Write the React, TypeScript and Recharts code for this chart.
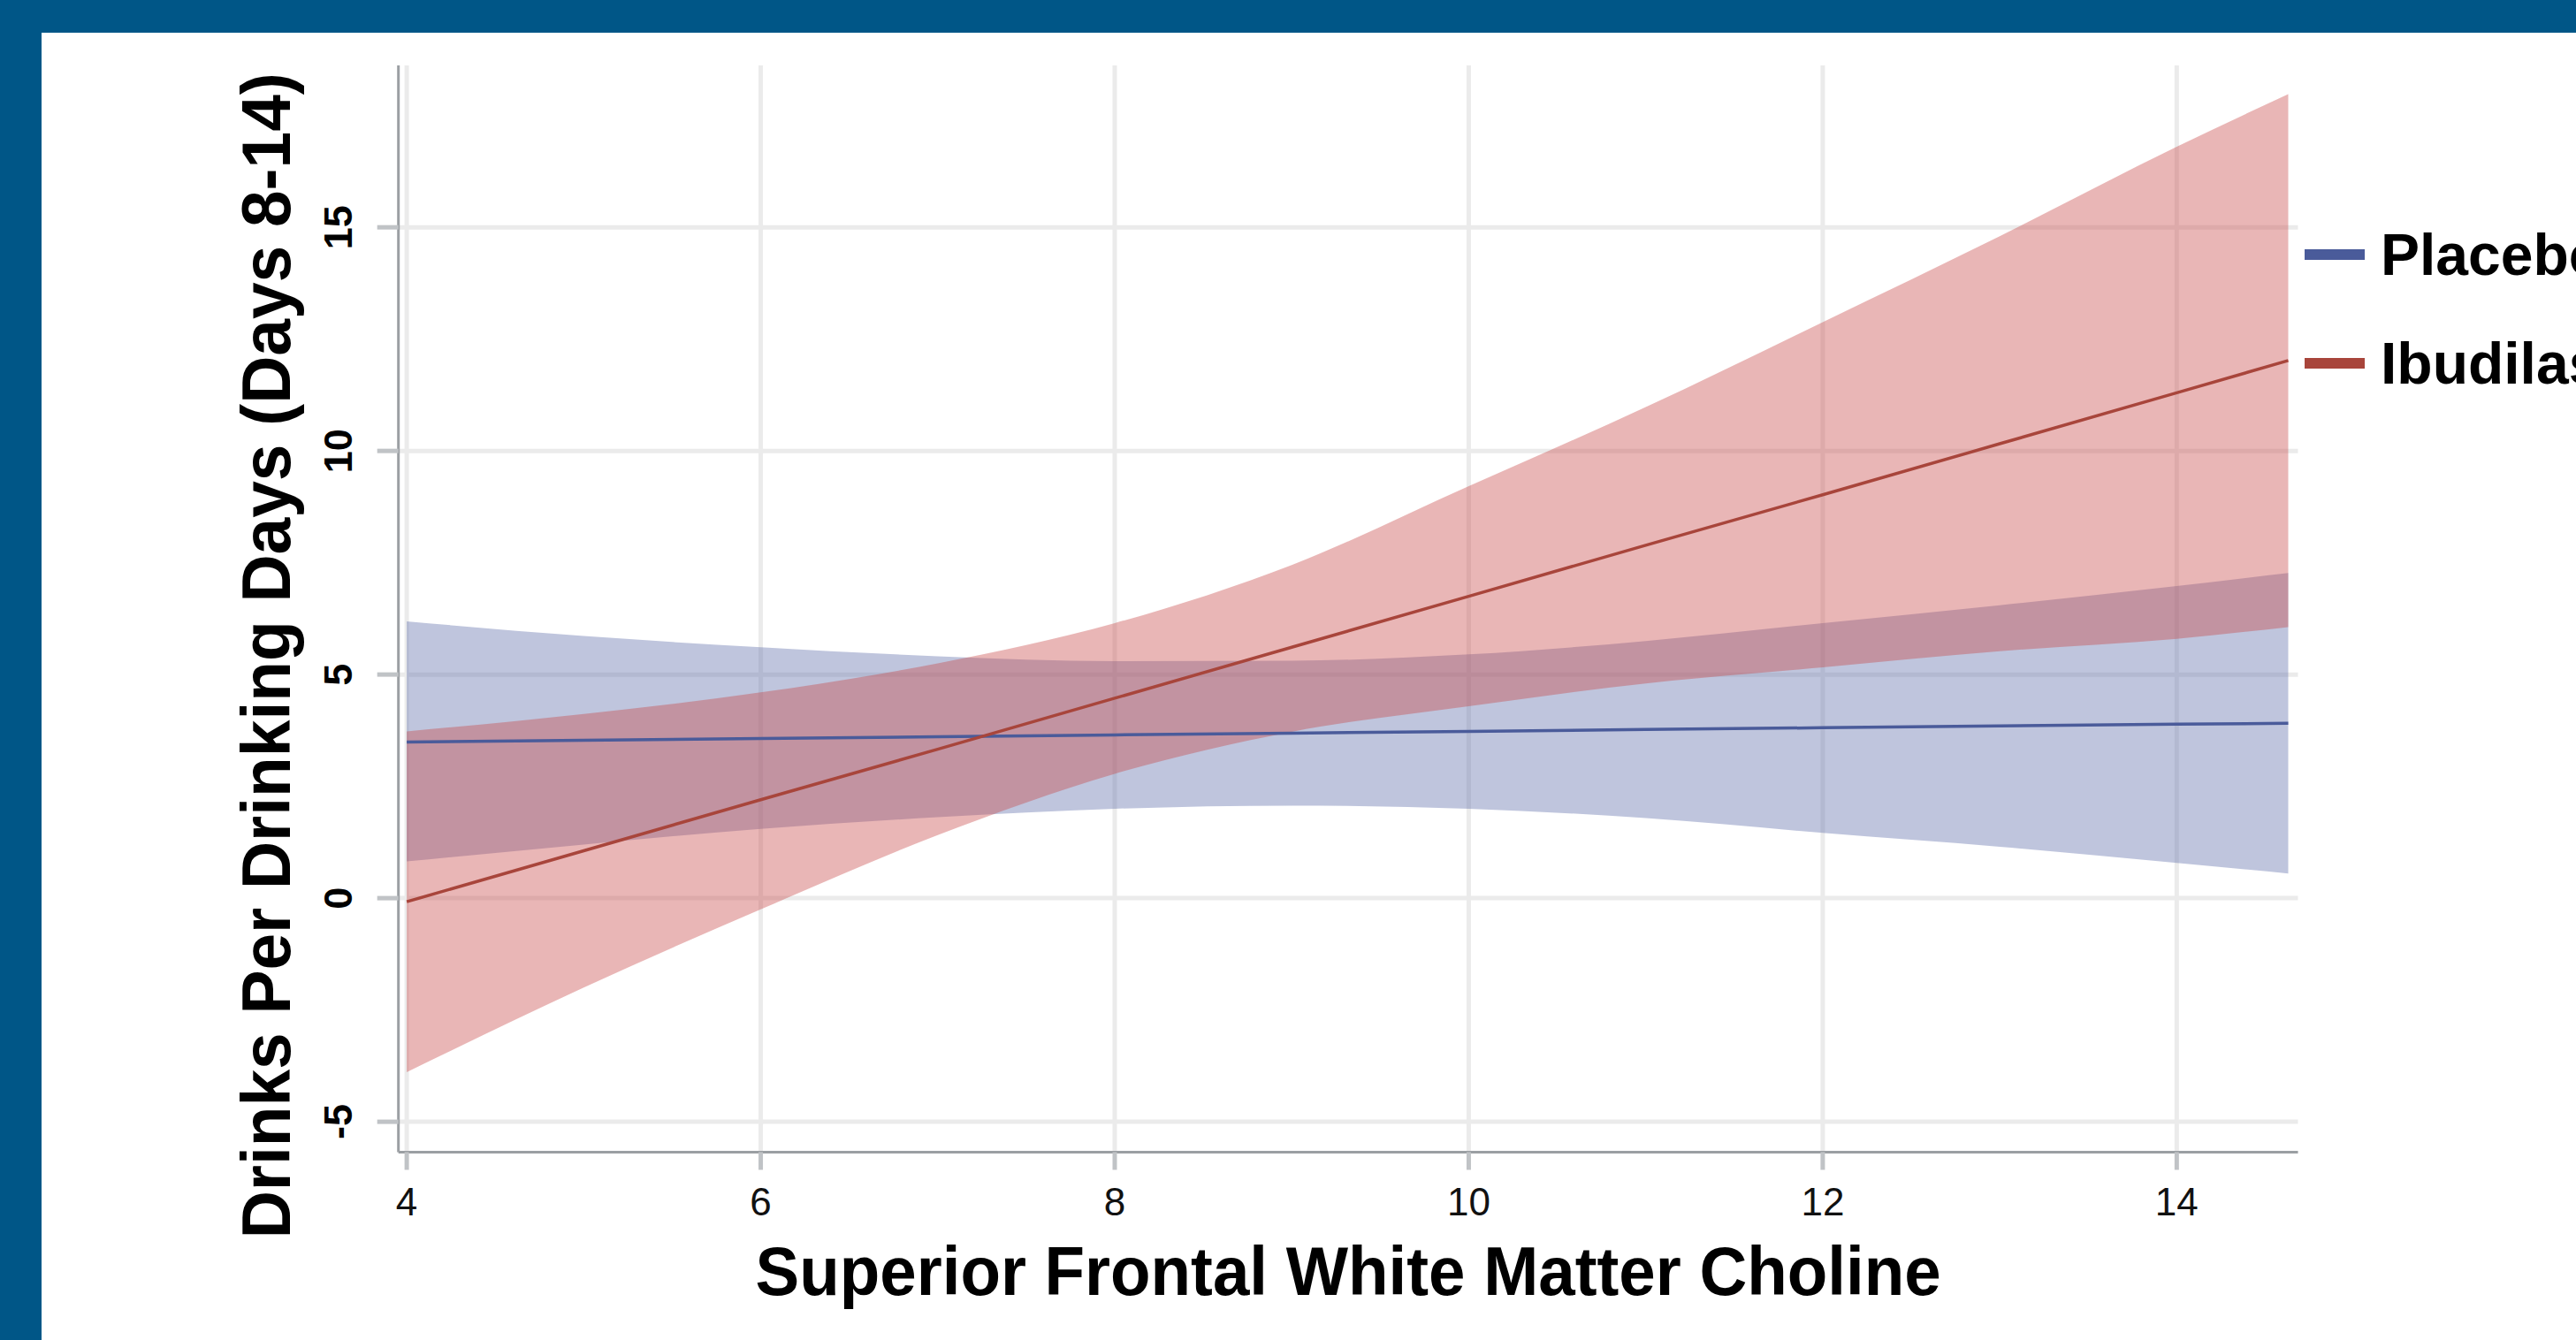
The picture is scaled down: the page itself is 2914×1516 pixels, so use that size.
import React from 'react';
import { ComposedChart, Area, Line, XAxis, YAxis, CartesianGrid, Legend } from 'recharts';

// Superior Frontal White Matter Choline
const X_VALUES = [4, 5, 6, 7, 8, 9, 10, 11, 12, 13, 14, 14.63];

const PLACEBO_FIT = [3.49, 3.53, 3.57, 3.61, 3.65, 3.69, 3.73, 3.77, 3.81, 3.85, 3.89, 3.91];
const PLACEBO_LOW = [0.82, 1.2, 1.55, 1.81, 2.0, 2.07, 2.0, 1.79, 1.46, 1.15, 0.79, 0.55];
const PLACEBO_HIGH = [6.19, 5.86, 5.61, 5.41, 5.3, 5.31, 5.45, 5.75, 6.15, 6.55, 6.98, 7.27];

const IBUD_FIT = [-0.08, 1.06, 2.2, 3.33, 4.47, 5.61, 6.75, 7.89, 9.02, 10.16, 11.3, 12.02];
const IBUD_LOW = [-3.89, -2.0, -0.25, 1.41, 2.78, 3.72, 4.29, 4.8, 5.16, 5.52, 5.8, 6.06];
const IBUD_HIGH = [3.73, 4.12, 4.6, 5.25, 6.15, 7.45, 9.21, 10.98, 12.88, 14.8, 16.8, 17.98];

const X_TICKS = [4, 6, 8, 10, 12, 14];
const Y_TICKS = [-5, 0, 5, 10, 15];
const X_DOMAIN = [3.953, 14.685];
const Y_DOMAIN = [-5.68, 18.62];

const SERIES_NAMES = ['Placebo', 'Ibudilast'];
const SERIES_COLORS = ['#4A5B9A', '#A8453B'];
const BAND_COLORS = ['#5F6EAA', '#C84848'];

const X_TITLE = 'Superior Frontal White Matter Choline';
const Y_TITLE = 'Drinks Per Drinking Days (Days 8-14)';

const data = X_VALUES.map((x, i) => ({
  x,
  pFit: PLACEBO_FIT[i],
  pBand: [PLACEBO_LOW[i], PLACEBO_HIGH[i]],
  iFit: IBUD_FIT[i],
  iBand: [IBUD_LOW[i], IBUD_HIGH[i]],
}));

const FONT = '"Liberation Sans", Arial, Helvetica, sans-serif';

const YTick = (props: any) => {
  const { x, y, payload } = props;
  return (
    <g transform={`translate(${x},${y}) rotate(-90)`}>
      <text x={0} y={0} textAnchor="middle" fontSize={45} fontWeight="bold" fill="#000" fontFamily={FONT}>
        {payload.value}
      </text>
    </g>
  );
};

const XTitle = (props: any) => {
  const vb = props.viewBox || {};
  return (
    <text
      x={vb.x + vb.width / 2}
      y={vb.y + 161.5}
      textAnchor="middle"
      fontSize={77}
      fontWeight="bold"
      fill="#000"
      fontFamily={FONT}
      textLength={1341}
      lengthAdjust="spacingAndGlyphs"
    >
      {X_TITLE}
    </text>
  );
};

const YTitle = (props: any) => {
  const vb = props.viewBox || {};
  const cy = vb.y + vb.height / 2 + 53;
  return (
    <g transform={`translate(328,${cy}) rotate(-90)`}>
      <text
        x={0}
        y={0}
        textAnchor="middle"
        fontSize={77}
        fontWeight="bold"
        fill="#000"
        fontFamily={FONT}
        textLength={1319}
        lengthAdjust="spacingAndGlyphs"
      >
        {Y_TITLE}
      </text>
    </g>
  );
};

const LegendContent = () => (
  <div style={{ fontFamily: FONT }}>
    {SERIES_NAMES.map((name, i) => (
      <div key={name} style={{ display: 'flex', alignItems: 'center', height: 123, whiteSpace: 'nowrap' }}>
        <div style={{ width: 68, height: 12, background: SERIES_COLORS[i], marginRight: 18, flex: '0 0 auto' }} />
        <span style={{ fontSize: 66, fontWeight: 'bold', color: '#000', lineHeight: '123px' }}>{name}</span>
      </div>
    ))}
  </div>
);

export default function App() {
  return (
    <div
      style={{
        position: 'fixed',
        left: 0,
        top: 0,
        width: 2914,
        height: 1516,
        overflow: 'hidden',
        background: '#ffffff',
      }}
    >
      <div style={{ position: 'absolute', left: 0, top: 0, width: 2914, height: 37, background: '#005687' }} />
      <div style={{ position: 'absolute', left: 0, top: 0, width: 47, height: 1516, background: '#005687' }} />
      <div style={{ position: 'absolute', left: 0, top: 0 }}>
        <ComposedChart
          width={2914}
          height={1516}
          data={data}
          margin={{ top: 74, right: 314.5, bottom: 0, left: 0 }}
          accessibilityLayer={false}
        >
          <CartesianGrid stroke="#EBEBEB" strokeWidth={5} horizontal vertical syncWithTicks />
          <XAxis
            type="number"
            dataKey="x"
            domain={X_DOMAIN}
            ticks={X_TICKS}
            allowDataOverflow
            height={212.5}
            tickSize={20}
            tickMargin={20}
            axisLine={{ stroke: '#9B9FA3', strokeWidth: 3 }}
            tickLine={{ stroke: '#C0C3C6', strokeWidth: 5 }}
            tick={{ fontSize: 44, fill: '#111', fontFamily: FONT }}
            label={<XTitle />}
          />
          <YAxis
            type="number"
            domain={Y_DOMAIN}
            ticks={Y_TICKS}
            allowDataOverflow
            width={450.7}
            tickSize={24}
            tickMargin={28.7}
            axisLine={{ stroke: '#9B9FA3', strokeWidth: 3 }}
            tickLine={{ stroke: '#C0C3C6', strokeWidth: 5 }}
            tick={<YTick />}
            label={<YTitle />}
          />
          <Area
            type="monotone"
            dataKey="pBand"
            stroke="none"
            fill={BAND_COLORS[0]}
            fillOpacity={0.4}
            isAnimationActive={false}
            dot={false}
            activeDot={false}
            legendType="none"
          />
          <Line
            type="linear"
            dataKey="pFit"
            stroke={SERIES_COLORS[0]}
            strokeWidth={3.5}
            dot={false}
            activeDot={false}
            isAnimationActive={false}
          />
          <Area
            type="monotone"
            dataKey="iBand"
            stroke="none"
            fill={BAND_COLORS[1]}
            fillOpacity={0.4}
            isAnimationActive={false}
            dot={false}
            activeDot={false}
            legendType="none"
          />
          <Line
            type="linear"
            dataKey="iFit"
            stroke={SERIES_COLORS[1]}
            strokeWidth={3.5}
            dot={false}
            activeDot={false}
            isAnimationActive={false}
          />
          <Legend
            layout="vertical"
            align="center"
            verticalAlign="middle"
            content={<LegendContent />}
            wrapperStyle={{ position: 'absolute', left: 2607, top: 226.5, width: 600, height: 246 }}
          />
        </ComposedChart>
      </div>
    </div>
  );
}
